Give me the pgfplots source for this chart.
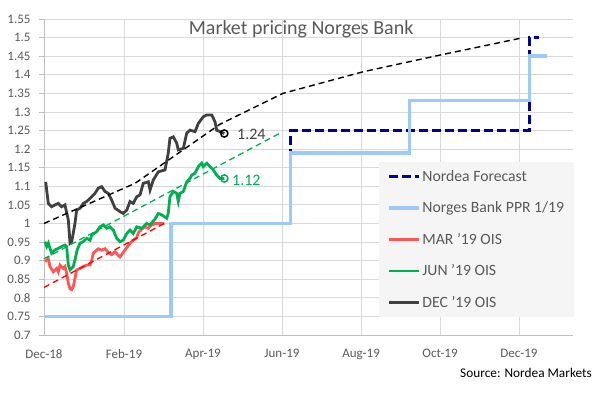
\documentclass[border=0pt]{standalone}
\usepackage{pgfplots}
\pgfplotsset{compat=1.18}
\usepackage{fontspec}
\setmainfont{Carlito}
\definecolor{txtgray}{HTML}{595959}
\definecolor{gridgray}{HTML}{D9D9D9}
\definecolor{axgray}{HTML}{BFBFBF}
\definecolor{navyf}{RGB}{0,0,150}
\definecolor{ppr}{RGB}{158,202,250}
\definecolor{marred}{RGB}{255,85,85}
\definecolor{jungreen}{HTML}{00B050}
\definecolor{decgray}{HTML}{404040}
\begin{document}
\begin{tikzpicture}
\begin{axis}[
  name=ax,
  scale only axis,
  width=529pt, height=316pt,
  xmin=0, xmax=406.6, ymin=0.7, ymax=1.55,
  axis lines*=left,
  axis line style={draw=axgray, line width=0.8pt},
  xtick={0,61.5,122.2,182.9,243.7,304.4,365.1},
  xticklabels={Dec-18,Feb-19,Apr-19,Jun-19,Aug-19,Oct-19,Dec-19},
  ytick={0.7,0.75,0.8,0.85,0.9,0.95,1,1.05,1.1,1.15,1.2,1.25,1.3,1.35,1.4,1.45,1.5,1.55},
  yticklabel style={/pgf/number format/fixed,/pgf/number format/precision=2, xshift=-5pt},
  xticklabel style={yshift=-6pt},
  /pgf/number format/assume math mode=true,
  ticklabel style={font=\fontsize{13}{15}\selectfont, text=txtgray},
  grid=major,
  major grid style={draw=gridgray, line width=0.8pt},
  xtick style={draw=none},
  ytick style={draw=axgray, line width=0.8pt},
  tick align=outside,
  major tick length=5pt,
  legend cell align=left,
  legend image code/.code={\draw[#1] (0pt,0pt) -- (30pt,0pt);},
  legend style={at={(0.633,0.547)}, anchor=north west, fill=gray!8, draw=none,
    font=\fontsize{15.7}{18}\selectfont, text=txtgray,
    inner xsep=8pt, inner ysep=6pt, row sep=15pt},
  clip=false,
]
% Nordea forecast
\addplot[navyf, line width=3.2pt, dash pattern=on 9pt off 4pt] coordinates {
(189.5,1.0) (189.5,1.25) (373,1.25) (373,1.5) (380.5,1.5)};
\addlegendentry{Nordea Forecast}
% Norges Bank PPR 1/19
\addplot[ppr, line width=3.4pt] coordinates {
(0,0.75) (97.6,0.75) (97.6,1.0) (189.5,1.0) (189.5,1.19) (280.8,1.19) (280.8,1.33) (373,1.33) (373,1.45) (386.6,1.45)};
\addlegendentry{Norges Bank PPR 1/19}
% MAR '19 OIS
\addplot[marred, line width=2.8pt] coordinates {
(0.8,0.897) (3.3,0.906) (4.6,0.884) (7.2,0.870) (9.8,0.879) (11.0,0.870) (12.3,0.888) (14.8,0.879) (16.1,0.884) (17.4,0.866) (18.7,0.839) (20.0,0.824) (21.3,0.822) (22.5,0.830) (23.8,0.852) (25.1,0.875) (27.7,0.879) (30.2,0.884) (32.8,0.888) (35.4,0.888) (36.7,0.902) (37.9,0.920) (41.7,0.932) (44.3,0.928) (46.9,0.932) (49.4,0.922) (52.0,0.916) (54.6,0.924) (57.1,0.914) (58.4,0.910) (60.9,0.922) (63.6,0.935) (66.1,0.947) (68.6,0.955) (71.3,0.962) (72.5,0.975) (75.1,0.985) (77.6,0.991) (80.2,0.987) (82.8,0.996) (85.3,1.0) (87.9,1.0) (90.5,1.0) (92.5,1.0)};
\addlegendentry{MAR {\char39}19 OIS}
% JUN '19 OIS
\addplot[jungreen, line width=2.8pt] coordinates {
(0.8,0.951) (2.1,0.938) (3.3,0.947) (5.9,0.920) (8.5,0.929) (11.0,0.933) (13.6,0.938) (16.1,0.942) (17.4,0.938) (18.7,0.888) (20.0,0.875) (22.5,0.884) (23.8,0.902) (25.6,0.930) (27.7,0.947) (30.2,0.951) (32.8,0.960) (35.4,0.955) (36.7,0.969) (40.5,0.978) (43.0,0.991) (45.6,0.996) (48.2,0.987) (50.7,0.991) (53.3,0.982) (55.9,0.960) (58.4,0.951) (60.9,0.955) (63.6,0.973) (66.1,0.982) (68.6,0.973) (71.3,0.991) (75.1,0.987) (78.9,1.0) (81.5,0.996) (85.3,1.012) (87.9,1.027) (90.5,1.023) (94.3,1.014) (95.5,1.027) (96.8,1.072) (99.4,1.086) (102.0,1.081) (103.2,1.059) (104.5,1.081) (107.1,1.086) (109.7,1.112) (112.2,1.121) (113.5,1.130) (116.1,1.135) (118.6,1.153) (121.2,1.162) (122.4,1.153) (125.1,1.162) (127.6,1.153) (130.1,1.144) (132.7,1.130) (135.3,1.121) (138.6,1.121)};
\addlegendentry{JUN {\char39}19 OIS}
% DEC '19 OIS
\addplot[decgray, line width=2.8pt] coordinates {
(1.3,1.112) (3.3,1.054) (5.9,1.045) (8.5,1.050) (11.0,1.054) (13.6,1.045) (16.1,1.050) (18.7,1.009) (20.0,0.947) (21.3,0.951) (23.8,1.000) (25.1,1.036) (27.7,1.041) (30.2,1.054) (32.8,1.059) (36.7,1.072) (39.2,1.081) (41.7,1.095) (44.3,1.099) (46.9,1.086) (49.4,1.081) (52.0,1.063) (54.6,1.041) (58.4,1.032) (60.9,1.027) (63.6,1.036) (66.1,1.059) (68.6,1.054) (71.3,1.072) (73.8,1.077) (76.3,1.108) (80.2,1.112) (81.5,1.090) (84.0,1.117) (87.9,1.139) (93.0,1.144) (95.5,1.189) (96.8,1.229) (99.4,1.233) (102.0,1.216) (103.2,1.198) (107.1,1.202) (109.7,1.243) (112.2,1.251) (116.1,1.247) (118.6,1.269) (122.4,1.287) (125.1,1.292) (128.9,1.292) (131.4,1.274) (132.7,1.251) (135.3,1.247) (138.6,1.242)};
\addlegendentry{DEC {\char39}19 OIS}
% implied paths (dashed)
\addplot[forget plot, red, line width=1.3pt, dash pattern=on 6pt off 4pt] coordinates {(0,0.828) (92.5,1.0)};
\addplot[forget plot, jungreen, line width=1.3pt, dash pattern=on 6pt off 4pt] coordinates {(0,0.905) (181.4,1.243)};
\addplot[forget plot, black, line width=1.4pt, dash pattern=on 6pt off 4pt] coordinates {
(0,1.0) (70,1.108) (135.3,1.267) (183.7,1.350) (245.2,1.408) (304.4,1.453) (365.9,1.498)};
% end markers
\addplot[forget plot, only marks, mark=o, mark size=3.6pt, mark options={line width=1.5pt, draw=black}] coordinates {(138.6,1.242)};
\addplot[forget plot, only marks, mark=o, mark size=3.6pt, mark options={line width=1.5pt, draw=jungreen}] coordinates {(138.6,1.121)};
\node[anchor=west, inner sep=0pt, text=decgray, font=\fontsize{16}{18}\selectfont] at (axis cs:148.3,1.24) {1.24};
\node[anchor=west, inner sep=0pt, text=jungreen, font=\fontsize{16}{18}\selectfont] at (axis cs:144.5,1.117) {1.12};
\node[anchor=base, inner sep=0pt, text=txtgray, font=\fontsize{20}{22}\selectfont] at (rel axis cs:0.486,0.9516) {Market pricing Norges Bank};
\end{axis}
\node[anchor=base east, inner sep=0pt, text=black, font=\fontsize{13.3}{15}\selectfont] at ([shift={(19pt,-43pt)}]ax.south east) {Source: Nordea Markets};
\pgfresetboundingbox
\path ([shift={(-44pt,-62pt)}]ax.south west) rectangle ([shift={(38pt,19pt)}]ax.north east);
\end{tikzpicture}
\end{document}
